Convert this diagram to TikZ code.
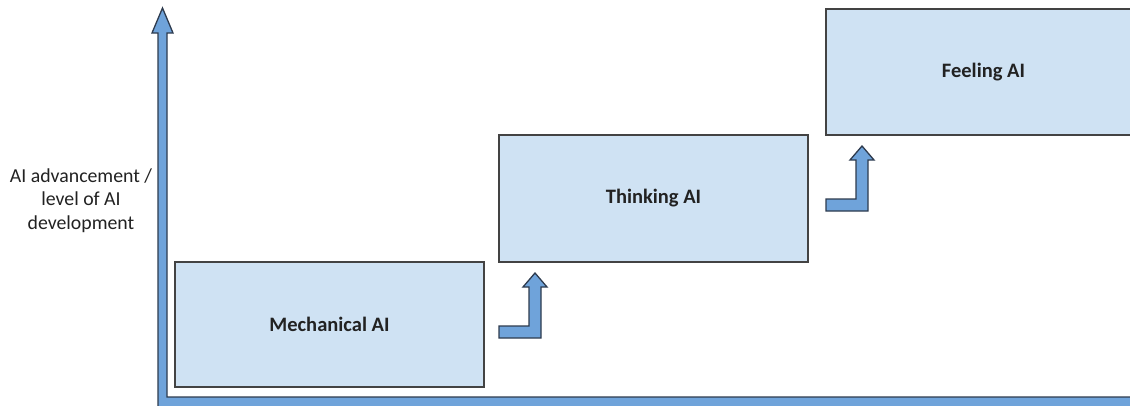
\documentclass[tikz,border=0pt]{standalone}
\usepackage{fontspec}
\setmainfont{Carlito}
\definecolor{boxfill}{HTML}{CFE2F3}
\definecolor{boxline}{HTML}{434343}
\definecolor{arrowfill}{HTML}{6FA3DA}
\definecolor{arrowline}{HTML}{2E3B4E}
\definecolor{textcol}{HTML}{222222}
\begin{document}
\begin{tikzpicture}[x=1pt,y=-1pt,
  stage/.style={draw=boxline, fill=boxfill, line width=1.3pt, inner sep=0pt,
    font=\bfseries\fontsize{20.5}{24}\selectfont, text=textcol},
  arrowshape/.style={draw=arrowline, fill=arrowfill, line width=1.3pt, line join=miter},
  axislabel/.style={align=center, font=\fontsize{19.8}{23.5}\selectfont, text=textcol, inner sep=0pt},
  bent/.pic={\draw[arrowshape] (0,0) -- (42,0) -- (42,-51) -- (48,-51) -- (36,-65)
      -- (24,-51) -- (30,-51) -- (30,-12) -- (0,-12) -- cycle;}
]
\useasboundingbox (0,0) rectangle (1130,405);
\clip (0,0) rectangle (1130,405);
\fill[white] (0,0) rectangle (1130,405);

% axis
\draw[arrowshape] (158,412) -- (158,33) -- (152,33) -- (162.5,8) -- (173,33) -- (167,33)
  -- (167,397) -- (1140,397) -- (1140,412) -- cycle;
\node[axislabel] (ylab) at (81,200.5) {AI advancement /\\level of AI\\development};

% stages
\node[stage, minimum width=309pt, minimum height=125pt] (mech) at (329.5,324.5) {Mechanical AI};
\node[stage, minimum width=309pt, minimum height=127pt] (think) at (653.5,198.5) {Thinking AI};
\node[stage, minimum width=315pt, minimum height=126pt] (feel) at (983.5,72) {Feeling AI};

% step arrows
\pic at (499,338) {bent};
\pic at (826,211) {bent};
\end{tikzpicture}
\end{document}
